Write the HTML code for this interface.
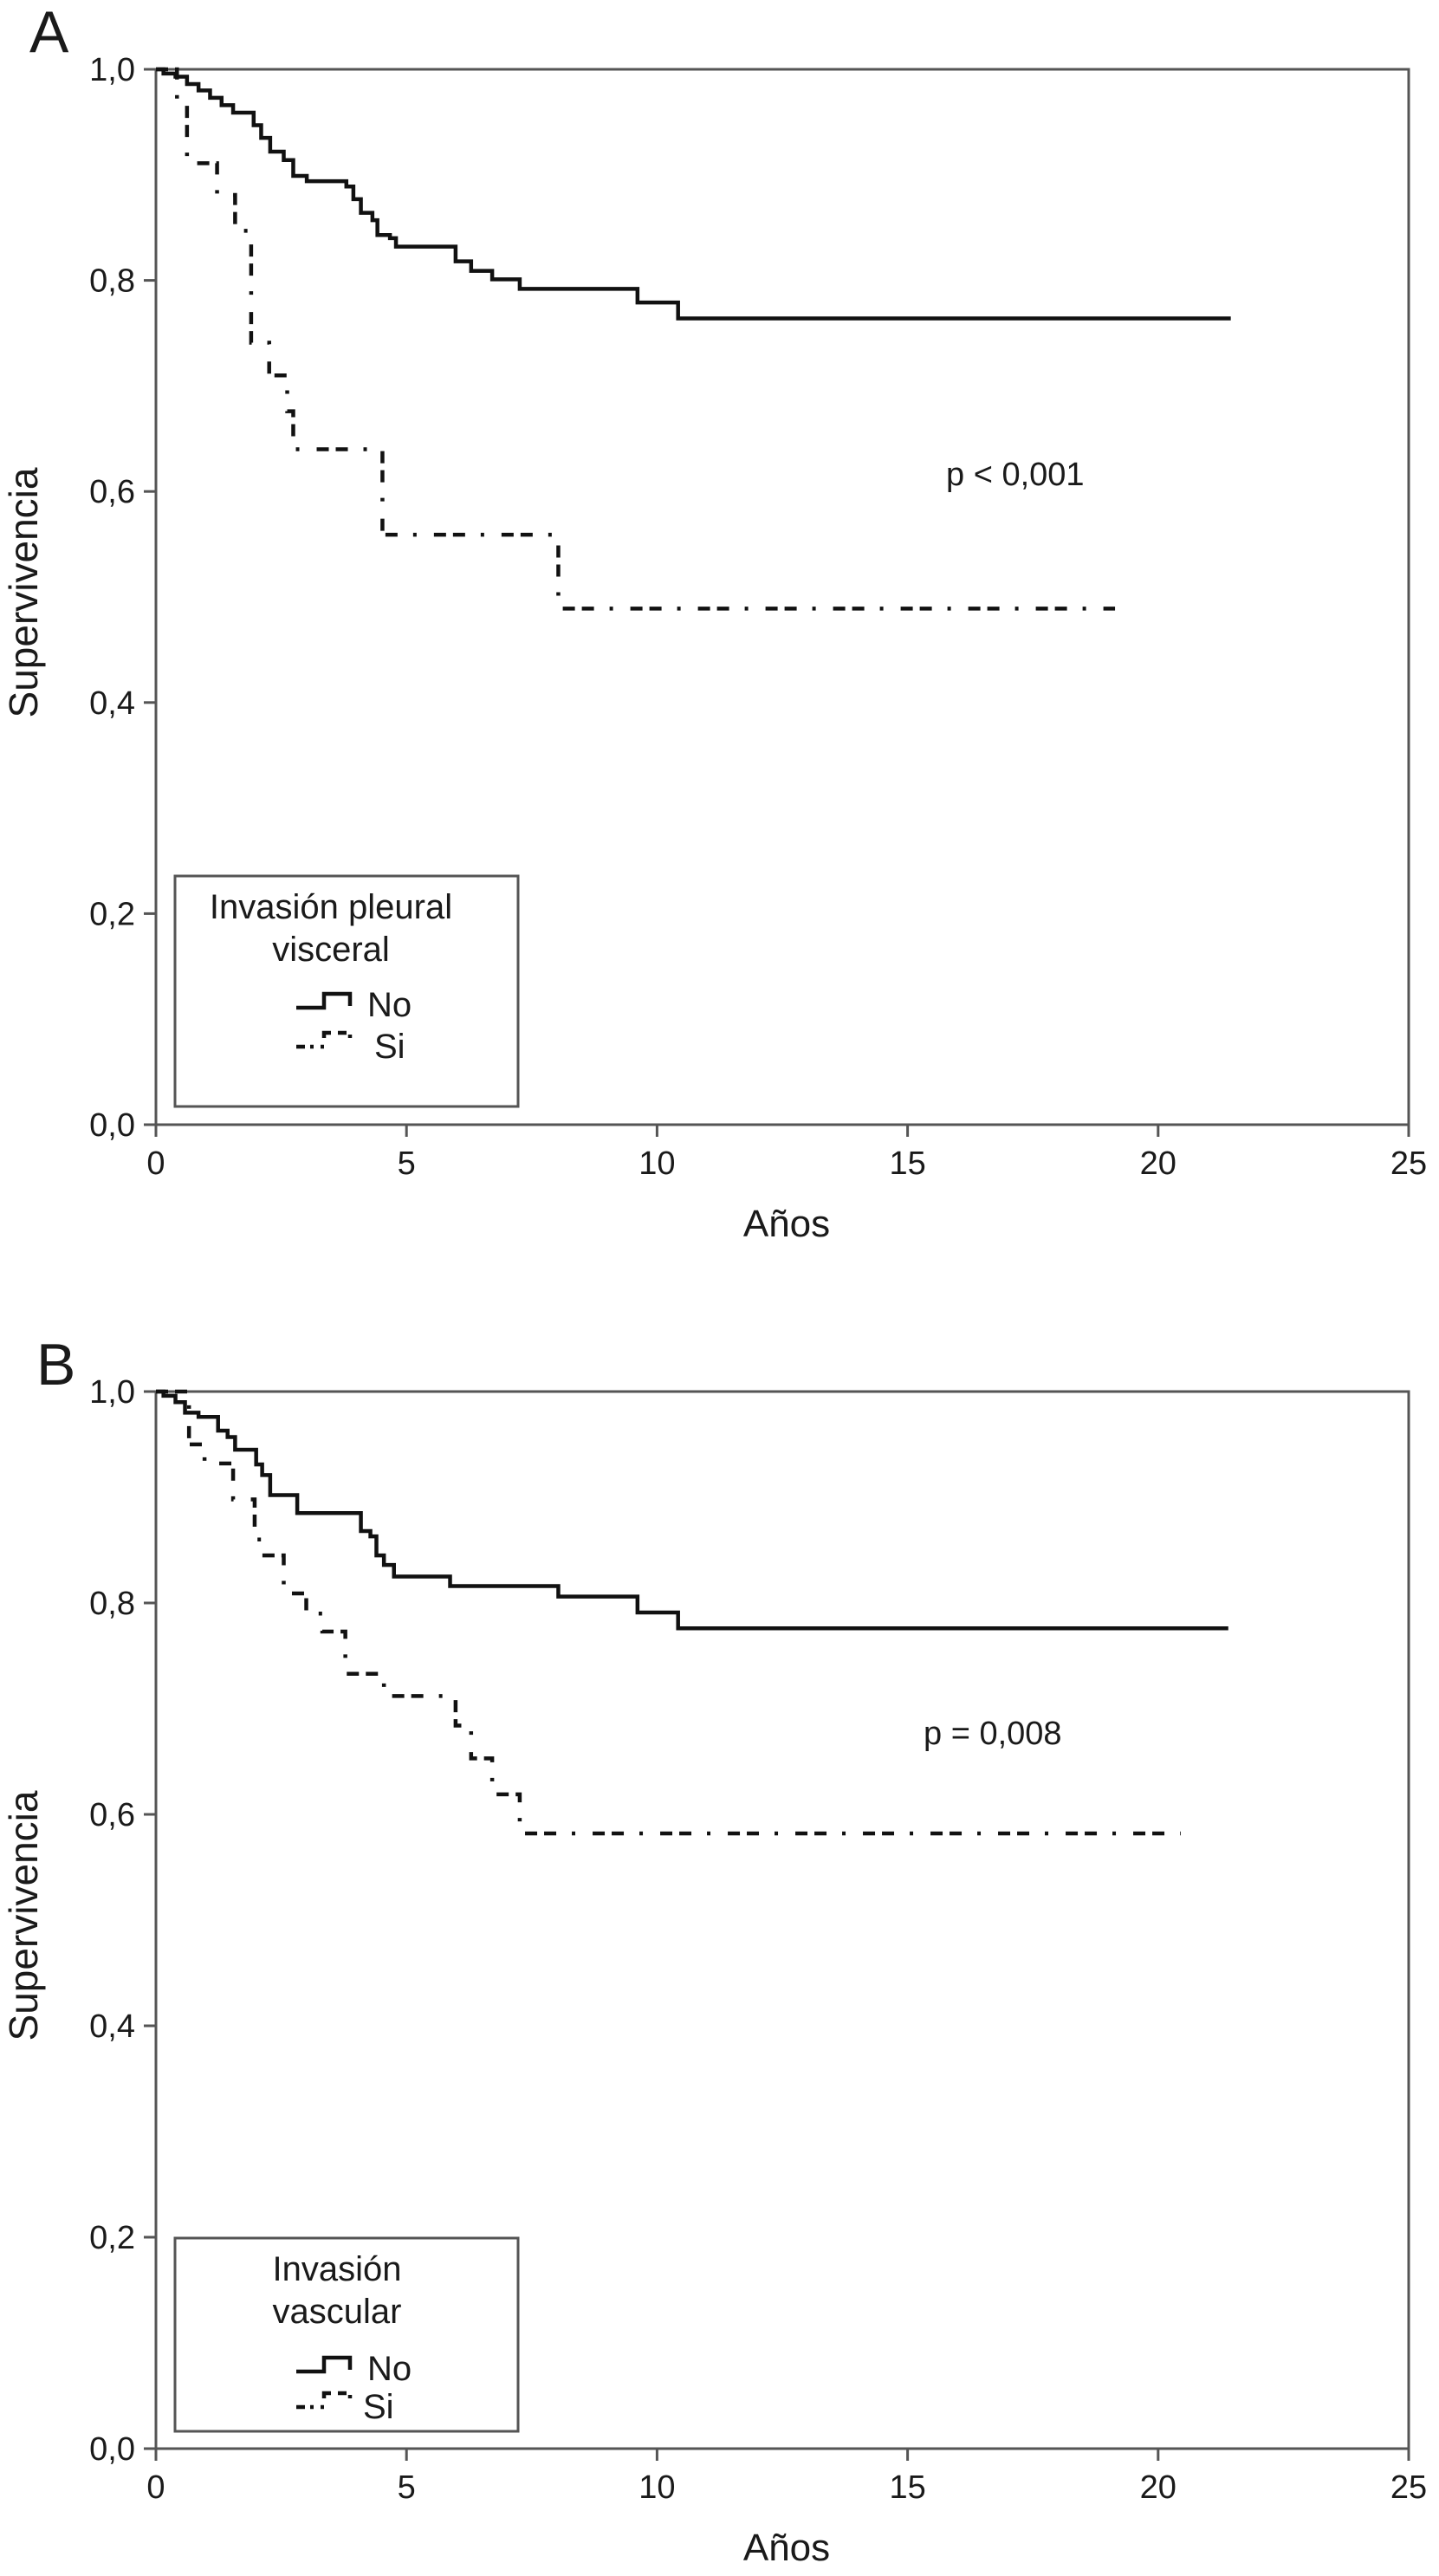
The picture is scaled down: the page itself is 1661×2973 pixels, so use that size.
<!DOCTYPE html>
<html><head><meta charset="utf-8"><style>
html,body{margin:0;padding:0;background:#fff}
svg{display:block}
text{font-family:"Liberation Sans",Arial,sans-serif;fill:#1a1a1a}
</style></head><body>
<svg id="fig" width="1661" height="2973" viewBox="0 0 1661 2973" xmlns="http://www.w3.org/2000/svg"></svg>
<script>
// x tick labels and y tick labels
const xTicks = [0, 5, 10, 15, 20, 25];
const yTicks = [0, 0.2, 0.4, 0.6, 0.8, 1.0];
const yTickLabels = ["0,0", "0,2", "0,4", "0,6", "0,8", "1,0"];
// Panel A – No
const aNoTimes = [0, 0.15, 0.39, 0.62, 0.85, 1.08, 1.31, 1.54, 1.95, 2.1, 2.28, 2.55, 2.74, 3.01, 3.8, 3.94, 4.09, 4.32, 4.42, 4.67, 4.79, 5.98, 6.29, 6.71, 7.26, 9.61, 10.42];
const aNoVals = [1.0, 0.996, 0.993, 0.986, 0.98, 0.973, 0.966, 0.959, 0.947, 0.935, 0.922, 0.914, 0.899, 0.894, 0.889, 0.877, 0.864, 0.857, 0.843, 0.84, 0.832, 0.818, 0.809, 0.801, 0.792, 0.779, 0.764];
const aNoEnd = 21.45;
// Panel A – Si
const aSiTimes = [0, 0.42, 0.62, 1.22, 1.58, 1.9, 2.26, 2.62, 2.74, 4.52, 8.03];
const aSiVals = [1.0, 0.97, 0.911, 0.881, 0.847, 0.741, 0.71, 0.676, 0.64, 0.559, 0.489];
const aSiEnd = 19.14;
// Panel B – No
const bNoTimes = [0, 0.15, 0.39, 0.58, 0.85, 1.24, 1.43, 1.58, 2.0, 2.12, 2.28, 2.82, 4.09, 4.28, 4.4, 4.55, 4.75, 5.87, 8.03, 9.61, 10.42];
const bNoVals = [1.0, 0.996, 0.99, 0.98, 0.976, 0.963, 0.957, 0.945, 0.931, 0.921, 0.902, 0.885, 0.868, 0.863, 0.845, 0.836, 0.825, 0.816, 0.806, 0.791, 0.776];
const bNoEnd = 21.4;
// Panel B – Si
const bSiTimes = [0, 0.66, 0.97, 1.54, 1.97, 2.12, 2.55, 3.0, 3.32, 3.78, 4.55, 5.98, 6.29, 6.71, 7.26];
const bSiVals = [1.0, 0.95, 0.932, 0.898, 0.86, 0.845, 0.809, 0.79, 0.773, 0.733, 0.712, 0.684, 0.653, 0.619, 0.582];
const bSiEnd = 20.45;

const NS = "http://www.w3.org/2000/svg";
const svg = document.getElementById("fig");
function el(tag, attrs, parent, txt){
  const e = document.createElementNS(NS, tag);
  for (const k in attrs) e.setAttribute(k, attrs[k]);
  if (txt !== undefined) e.textContent = txt;
  (parent || svg).appendChild(e);
  return e;
}
const X0 = 180, X1 = 1626;
function xs(t){ return X0 + (t / 25) * (X1 - X0); }

function stepPath(times, vals, end, ys){
  let d = "M" + xs(times[0]) + "," + ys(vals[0]);
  for (let i = 1; i < times.length; i++){
    d += " H" + xs(times[i]) + " V" + ys(vals[i]);
  }
  d += " H" + xs(end);
  return d;
}

function panel(opt){
  const Y1 = opt.top, Y0 = opt.bottom;
  const ys = v => Y0 - v * (Y0 - Y1);
  const g = el("g", {});
  
  
  const letter = el("text", {x: opt.letterX, y: opt.letterY, "font-size": 68}, g, opt.letter);
  
  
  const frame = el("rect", {x: X0, y: Y1, width: X1 - X0, height: Y0 - Y1, fill: "none", stroke: "#555", "stroke-width": 3}, g);
  
  
  yTicks.forEach((v, i) => {
    const t = el("line", {x1: 166, x2: X0, y1: ys(v), y2: ys(v), stroke: "#555", "stroke-width": 3}, g);
    
    
    const l = el("text", {x: 156, y: ys(v) + 13, "font-size": 38, "text-anchor": "end"}, g, yTickLabels[i]);
    
    
  });
  xTicks.forEach(v => {
    const t = el("line", {x1: xs(v), x2: xs(v), y1: Y0, y2: Y0 + 14, stroke: "#555", "stroke-width": 3}, g);
    
    
    const l = el("text", {x: xs(v), y: Y0 + 57, "font-size": 38, "text-anchor": "middle"}, g, String(v));
    
    
  });
  const xt = el("text", {x: 908, y: Y0 + 129, "font-size": 44, "text-anchor": "middle"}, g, "Años");
  
  
  const cy = (Y0 + Y1) / 2 - 5;
  const yt = el("text", {x: 0, y: 0, "font-size": 46, "text-anchor": "middle", transform: "translate(43," + cy + ") rotate(-90)"}, g, "Supervivencia");
  
  
  const no = el("path", {d: stepPath(opt.noT, opt.noV, opt.noEnd, ys), fill: "none", stroke: "#111", "stroke-width": 4.5}, g);
  
  
  const si = el("path", {d: stepPath(opt.siT, opt.siV, opt.siEnd, ys), fill: "none", stroke: "#111", "stroke-width": 4.5, "stroke-dasharray": "14 8 14 18 4 20"}, g);
  
  
  const p = el("text", {x: opt.pX, y: opt.pY, "font-size": 38}, g, opt.pText);
  
  
  // legend
  const L = opt.leg;
  const lg = el("g", {}, g);
  
  
  el("rect", {x: 202, y: L.top, width: 396, height: L.h, fill: "none", stroke: "#555", "stroke-width": 3}, lg);
  opt.legTitle.forEach((s, i) => {
    const tt = el("text", {x: L.tx, y: L.top + 49 + i * 49, "font-size": 40, "text-anchor": "middle"}, lg, s);
    
    
  });
  const noY = L.top + L.noOff;
  const e1 = el("path", {d: "M342," + noY + " H374 V" + (noY - 16) + " H404 V" + (noY - 2), fill: "none", stroke: "#111", "stroke-width": 4.5}, lg);
  
  
  const n1 = el("text", {x: 424, y: noY + 10, "font-size": 40}, lg, "No");
  
  
  const siY = L.top + L.siOff;
  const e2 = el("path", {d: "M342," + siY + " H374 V" + (siY - 16) + " H404 V" + (siY - 2), fill: "none", stroke: "#111", "stroke-width": 4.5, "stroke-dasharray": "10 6 4 8 4 10 14 8"}, lg);
  
  
  const n2 = el("text", {x: L.siX, y: siY + 13, "font-size": 40}, lg, "Si");
  
  
}

panel({name: "panel-a", letter: "A", letterX: 34, letterY: 60, top: 80, bottom: 1298,
  noT: aNoTimes, noV: aNoVals, noEnd: aNoEnd, siT: aSiTimes, siV: aSiVals, siEnd: aSiEnd,
  pX: 1092, pY: 560, pText: "p < 0,001",
  legTitle: ["Invasión pleural", "visceral"],
  leg: {top: 1011, h: 266, tx: 382, noOff: 152, siOff: 197, siX: 432}});
panel({name: "panel-b", letter: "B", letterX: 42, letterY: 1598, top: 1606, bottom: 2826,
  noT: bNoTimes, noV: bNoVals, noEnd: bNoEnd, siT: bSiTimes, siV: bSiVals, siEnd: bSiEnd,
  pX: 1066, pY: 2013, pText: "p = 0,008",
  legTitle: ["Invasión", "vascular"],
  leg: {top: 2583, h: 223, tx: 389, noOff: 154, siOff: 195, siX: 419}});
</script>
</body></html>
